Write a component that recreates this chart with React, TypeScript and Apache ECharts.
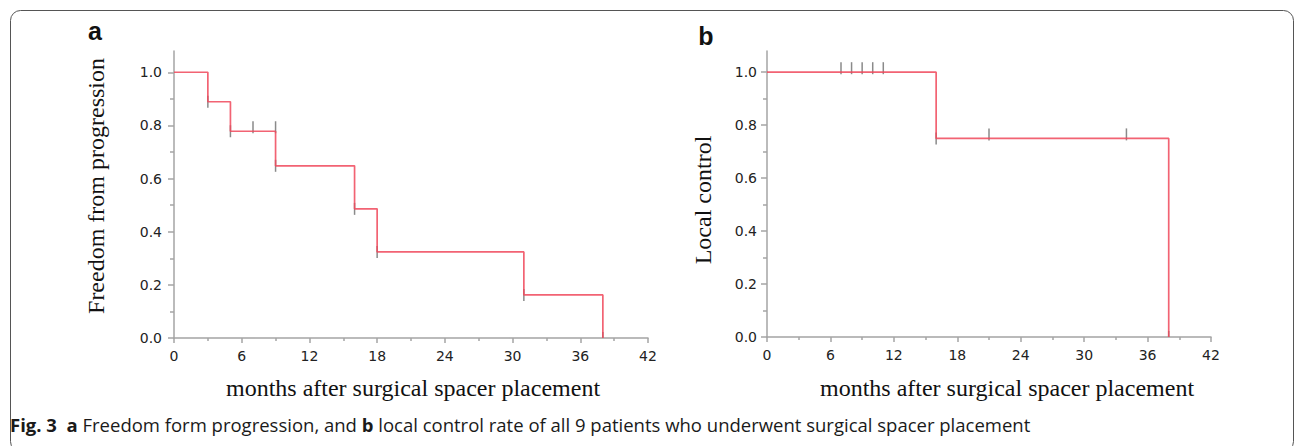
import React, { useEffect, useRef } from 'react';
import * as echarts from 'echarts';

// ---- shared axis ticks ----
const monthTicks = [0, 6, 12, 18, 24, 30, 36, 42];
const survTicks = [0, 0.2, 0.4, 0.6, 0.8, 1.0];

// ---- panel a: freedom from progression ----
const fpTimes = [0, 3, 5, 9, 16, 18, 31, 38];
const fpSurv = [1.0, 0.889, 0.778, 0.648, 0.486, 0.324, 0.162, 0.0];
const fpCensorTimes = [7, 9];
const fpCensorSurv = [0.778, 0.778];

// ---- panel b: local control ----
const lcTimes = [0, 16, 38];
const lcSurv = [1.0, 0.75, 0.0];
const lcCensorTimes = [7, 8, 9, 10, 11, 21, 34];
const lcCensorSurv = [1.0, 1.0, 1.0, 1.0, 1.0, 0.75, 0.75];

const AXIS_GRAY = '#a4a4a4';
const RED = '#f0485a';
const MARK_GRAY = '#8a8a8a';

function xAxisOpt(gridIndex: number) {
  return {
    type: 'value',
    gridIndex,
    min: monthTicks[0],
    max: monthTicks[monthTicks.length - 1],
    interval: 6,
    axisLine: { show: true, lineStyle: { color: AXIS_GRAY, width: 1.5 } },
    axisTick: { show: true, length: 5, lineStyle: { color: AXIS_GRAY, width: 1.5 } },
    minorTick: { show: true, splitNumber: 2, length: 3, lineStyle: { color: AXIS_GRAY, width: 1.5 } },
    splitLine: { show: false },
    minorSplitLine: { show: false },
    axisLabel: { fontFamily: 'DejaVu Sans', fontSize: 14, color: '#222', margin: 11 },
  };
}

function yAxisOpt(gridIndex: number, margin: number) {
  return {
    type: 'value',
    gridIndex,
    min: 0,
    max: 1.08,
    interval: 0.2,
    axisLine: { show: true, lineStyle: { color: AXIS_GRAY, width: 1.5 } },
    axisTick: { show: true, length: 6, customValues: survTicks, lineStyle: { color: AXIS_GRAY, width: 1.5 } },
    minorTick: { show: true, splitNumber: 2, length: 4, lineStyle: { color: AXIS_GRAY, width: 1.5 } },
    splitLine: { show: false },
    minorSplitLine: { show: false },
    axisLabel: {
      customValues: survTicks,
      formatter: (v: number) => v.toFixed(1),
      fontFamily: 'DejaVu Sans',
      fontSize: 14,
      color: '#222',
      margin,
    },
  };
}

function markSeries(idx: number, data: number[][], up: number, down: number) {
  return {
    type: 'custom',
    xAxisIndex: idx,
    yAxisIndex: idx,
    clip: true,
    silent: true,
    z: 2,
    renderItem: (_params: any, api: any) => {
      const p = api.coord([api.value(0), api.value(1)]);
      return {
        type: 'line',
        shape: { x1: p[0], y1: p[1] - up, x2: p[0], y2: p[1] + down },
        style: { stroke: MARK_GRAY, lineWidth: 1.5 },
      };
    },
    data,
  };
}

function stepSeries(idx: number, times: number[], surv: number[]) {
  return {
    type: 'line',
    xAxisIndex: idx,
    yAxisIndex: idx,
    step: 'end',
    symbol: 'none',
    z: 3,
    lineStyle: { color: RED, width: 1.7, opacity: 0.85 },
    data: times.map((t, i) => [t, surv[i]]),
  };
}

export default function App() {
  const ref = useRef<HTMLDivElement>(null);

  useEffect(() => {
    document.body.style.margin = '0';
    if (!ref.current) return;
    const chart = echarts.init(ref.current, undefined, { renderer: 'svg' });

    const fpDrops = fpTimes.slice(1).map((t, i) => [t, fpSurv[i + 1]]);
    const fpCens = fpCensorTimes.map((t, i) => [t, fpCensorSurv[i]]);
    const lcDrops = lcTimes.slice(1).map((t, i) => [t, lcSurv[i + 1]]);
    const lcCens = lcCensorTimes.map((t, i) => [t, lcCensorSurv[i]]);

    chart.setOption({
      animation: false,
      backgroundColor: '#fff',
      grid: [
        { left: 174, right: 647, top: 51, bottom: 108 },
        { left: 767, right: 84, top: 51, bottom: 109 },
      ],
      xAxis: [xAxisOpt(0), xAxisOpt(1)],
      yAxis: [yAxisOpt(0, 12), yAxisOpt(1, 10)],
      series: [
        markSeries(0, fpDrops, 6, 6),
        markSeries(0, fpCens, 10, 2),
        stepSeries(0, fpTimes, fpSurv),
        markSeries(1, lcDrops, 6, 6),
        markSeries(1, lcCens, 10, 2),
        stepSeries(1, lcTimes, lcSurv),
      ],
      graphic: [
        {
          type: 'rect',
          shape: { x: 10.5, y: 10.5, width: 1283, height: 441, r: 10 },
          style: { fill: 'none', stroke: '#555', lineWidth: 1 },
          silent: true,
        },
        {
          type: 'text', x: 95, y: 31,
          style: { text: 'a', font: 'bold 25px "Liberation Sans"', fill: '#111', align: 'center', verticalAlign: 'middle' },
        },
        {
          type: 'text', x: 706, y: 36,
          style: { text: 'b', font: 'bold 25px "Liberation Sans"', fill: '#111', align: 'center', verticalAlign: 'middle' },
        },
        {
          type: 'text', x: 96, y: 186, rotation: Math.PI / 2,
          style: { text: 'Freedom from progression', font: '24px "Liberation Serif"', fill: '#111', align: 'center', verticalAlign: 'middle' },
        },
        {
          type: 'text', x: 703, y: 200, rotation: Math.PI / 2,
          style: { text: 'Local control', font: '24px "Liberation Serif"', fill: '#111', align: 'center', verticalAlign: 'middle' },
        },
        {
          type: 'text', x: 413, y: 388,
          style: { text: 'months after surgical spacer placement', font: '24px "Liberation Serif"', fill: '#111', align: 'center', verticalAlign: 'middle' },
        },
        {
          type: 'text', x: 1007, y: 388,
          style: { text: 'months after surgical spacer placement', font: '24px "Liberation Serif"', fill: '#111', align: 'center', verticalAlign: 'middle' },
        },
        {
          type: 'text', x: 10, y: 424,
          style: {
            text: '{b|Fig. 3}  {b|a} Freedom form progression, and {b|b} local control rate of all 9 patients who underwent surgical spacer placement',
            fontFamily: 'Open Sans',
            fontSize: 18.5,
            fill: '#1a1a1a',
            align: 'left',
            verticalAlign: 'middle',
            rich: {
              b: { fontFamily: 'Open Sans', fontSize: 18.5, fontWeight: 'bold', fill: '#1a1a1a' },
            },
          },
        },
      ],
    });

    return () => chart.dispose();
  }, []);

  return <div ref={ref} style={{ width: 1295, height: 446 }} />;
}
